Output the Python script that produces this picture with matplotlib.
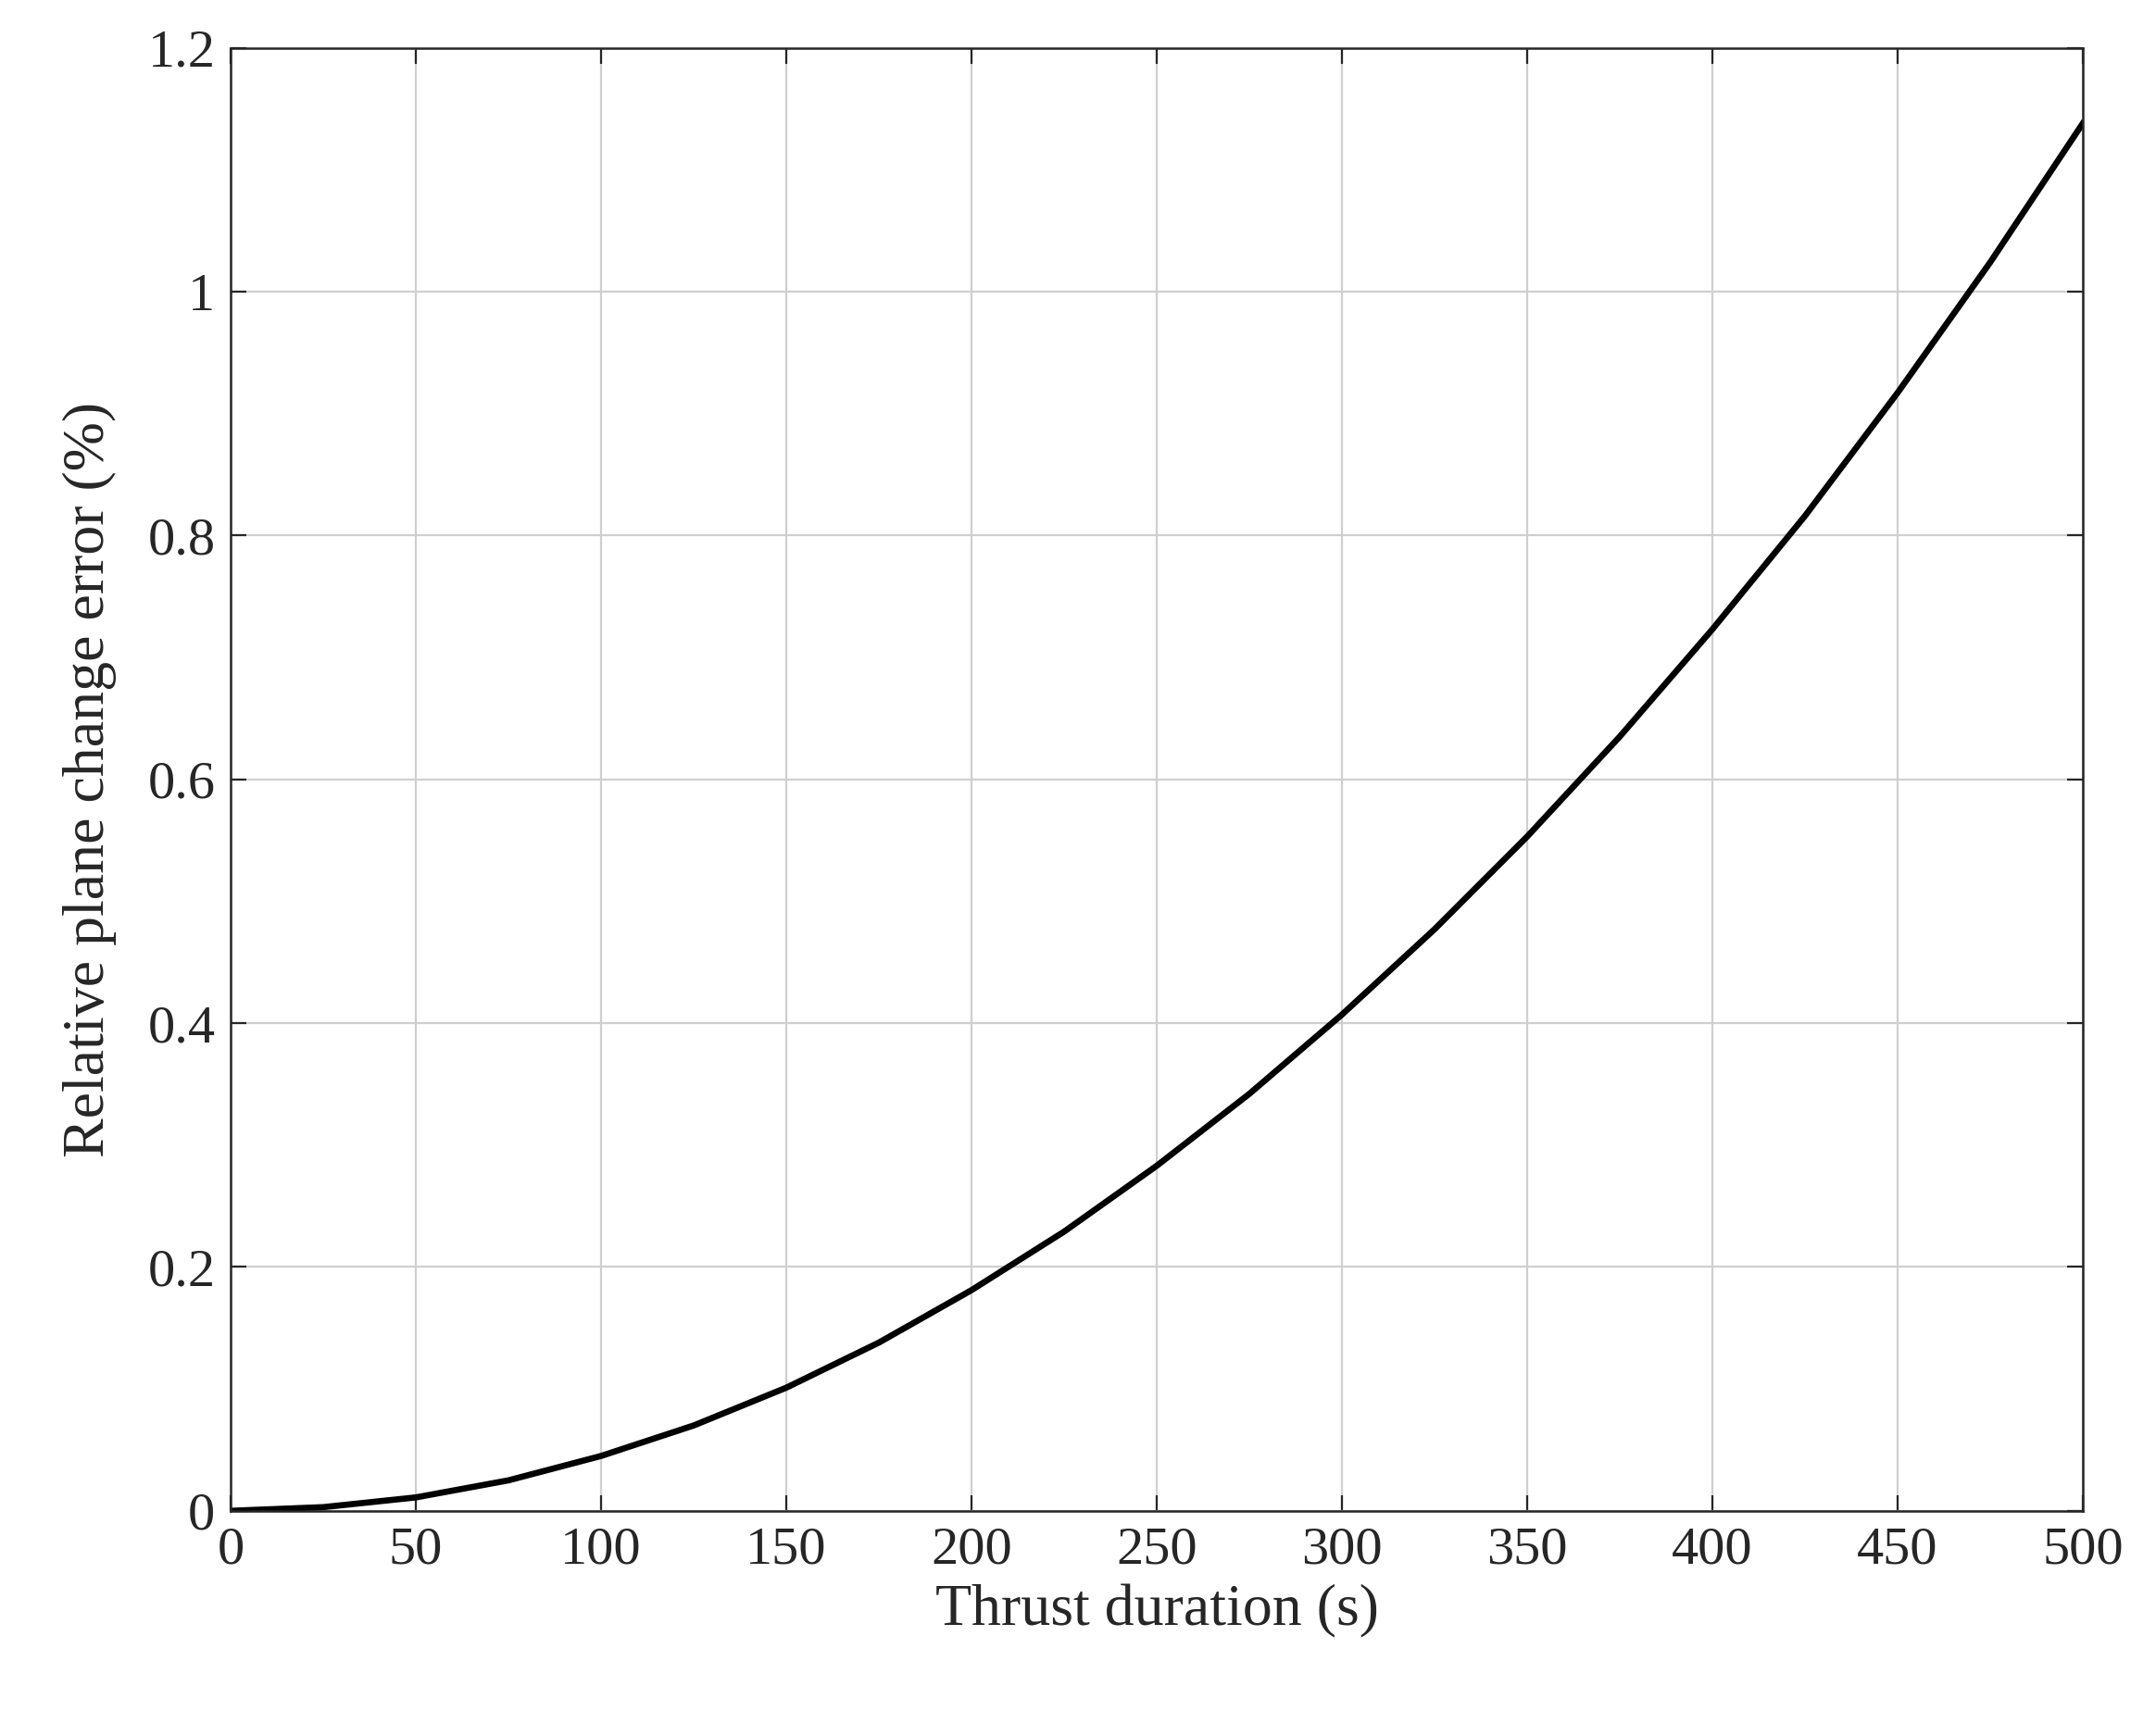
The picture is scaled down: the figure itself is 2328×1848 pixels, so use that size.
import matplotlib
matplotlib.use("Agg")
import matplotlib.pyplot as plt

duration = [0, 25, 50, 75, 100, 125, 150, 175, 200, 225, 250, 275, 300, 325, 350, 375, 400, 425, 450, 475, 500]
error = [0, 0.003, 0.011, 0.025, 0.045, 0.07, 0.101, 0.138, 0.181, 0.229, 0.283, 0.342, 0.407, 0.477, 0.553, 0.635, 0.723, 0.816, 0.917, 1.024, 1.138]
xticks = [0, 50, 100, 150, 200, 250, 300, 350, 400, 450, 500]
yticks = [0, 0.2, 0.4, 0.6, 0.8, 1, 1.2]
yticklabels = ["0", "0.2", "0.4", "0.6", "0.8", "1", "1.2"]

plt.rcParams['font.family'] = ['Liberation Serif']
fig = plt.figure(figsize=(11.64, 9.24), dpi=200)
ax = fig.add_axes([0.107, 0.117, 0.859, 0.855])
ax.plot(duration, error, color='black', lw=2.4, solid_joinstyle='round')
ax.set_xlim(0, 500)
ax.set_ylim(0, 1.2)
ax.set_xticks(xticks)
ax.set_yticks(yticks)
ax.set_yticklabels(yticklabels)
ax.grid(True, color='#cfcfcf', lw=0.8)
ax.tick_params(direction='in', top=True, right=True, labelsize=21, length=6, pad=6,
               colors='#262626', labelcolor='#262626')
for s in ax.spines.values():
    s.set_color('#262626')
    s.set_linewidth(0.9)
ax.set_xlabel("Thrust duration (s)", fontsize=23, color='#262626', labelpad=4)
ax.set_ylabel("Relative plane change error (%)", fontsize=23, color='#262626', labelpad=12)
fig.savefig("out.png")
